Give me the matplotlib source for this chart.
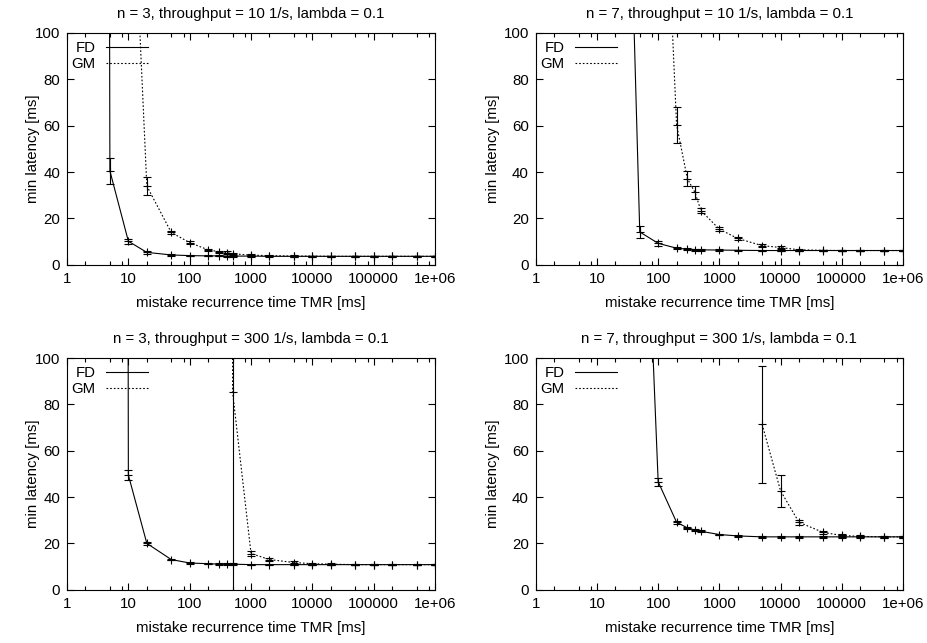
import numpy as np
import matplotlib
matplotlib.use('Agg')
import matplotlib.pyplot as plt
from matplotlib.lines import Line2D
from matplotlib.ticker import FixedLocator, NullFormatter

plt.rcParams['font.family'] = ['Liberation Sans', 'DejaVu Sans']
plt.rcParams['font.size'] = 10.8

nan = np.nan

# mistake recurrence time TMR [ms]
tmr = [1, 2, 5, 10, 20, 50, 100, 200, 300, 400, 500, 1000, 2000, 5000,
       10000, 20000, 50000, 100000, 200000, 500000, 1000000]

titles = ['n = 3, throughput = 10 1/s, lambda = 0.1',
          'n = 7, throughput = 10 1/s, lambda = 0.1',
          'n = 3, throughput = 300 1/s, lambda = 0.1',
          'n = 7, throughput = 300 1/s, lambda = 0.1']

# n = 3, throughput = 10
fd1 = [nan, 5000, 40.5, 10.2, 5.4, 4.3, 4.0, 3.9, 3.9, 3.8, 3.8, 3.8, 3.7, 3.7,
       3.7, 3.7, 3.7, 3.7, 3.7, 3.7, 3.7]
fd1_err = [nan, 0, 5.5, 1.0, 0.5, 0.3, 0.3, 0.2, 0.2, 0.2, 0.2, 0.2, 0.2, 0.2,
           0.2, 0.2, 0.2, 0.2, 0.2, 0.2, 0.2]
gm1 = [nan, nan, nan, 210, 34, 14, 9.6, 6.5, 5.7, 5.3, 4.8, 4.2, 4.0, 3.8,
       3.8, 3.7, 3.7, 3.7, 3.7, 3.7, 3.7]
gm1_err = [nan, nan, nan, 0, 4.0, 0.7, 0.6, 0.5, 0.5, 0.5, 0.4, 0.3, 0.3, 0.3,
           0.2, 0.2, 0.2, 0.2, 0.2, 0.2, 0.2]

# n = 7, throughput = 10
fd2 = [nan, nan, nan, nan, 390, 14.2, 9.3, 7.2, 6.8, 6.6, 6.5, 6.4, 6.3, 6.2,
       6.2, 6.2, 6.2, 6.2, 6.2, 6.2, 6.2]
fd2_err = [nan, nan, nan, nan, 0, 2.6, 1.0, 0.5, 0.4, 0.4, 0.3, 0.3, 0.3, 0.3,
           0.3, 0.3, 0.3, 0.3, 0.3, 0.3, 0.3]
gm2 = [nan, nan, nan, nan, nan, nan, 240, 60.3, 37.2, 31.2, 23.4, 15.4, 11.4, 8.3,
       7.5, 6.5, 6.3, 6.2, 6.2, 6.2, 6.2]
gm2_err = [nan, nan, nan, nan, nan, nan, 0, 7.6, 3.3, 2.9, 1.2, 1.0, 0.7, 0.6,
           0.5, 0.4, 0.3, 0.3, 0.3, 0.3, 0.3]

# n = 3, throughput = 300
fd3 = [nan, nan, 5000, 49.5, 20, 13, 11.5, 11.2, 11.0, 11.0, 11.0, 10.8, 10.8, 10.8,
       10.8, 10.8, 10.8, 10.8, 10.8, 10.8, 10.8]
fd3_err = [nan, nan, 0, 2.2, 0.6, 0.4, 0.3, 0.3, 0.3, 0.3, 0.3, 0.3, 0.3, 0.3,
           0.3, 0.3, 0.3, 0.3, 0.3, 0.3, 0.3]
gm3 = [nan, nan, nan, nan, nan, nan, nan, nan, nan, 5000, 85.5, 15.6, 13, 11.7,
       11.2, 11.0, 10.8, 10.8, 10.8, 10.8, 10.8]
gm3_err = [nan, nan, nan, nan, nan, nan, nan, nan, nan, 0, 300, 1.0, 0.8, 0.6,
           0.4, 0.3, 0.3, 0.3, 0.3, 0.3, 0.3]

# n = 7, throughput = 300
fd4 = [nan, nan, nan, nan, nan, 242, 46.6, 29.1, 26.7, 25.7, 25.2, 23.8, 23.2, 22.8,
       22.8, 22.8, 22.8, 22.8, 22.8, 22.8, 22.8]
fd4_err = [nan, nan, nan, nan, nan, 0, 1.8, 0.7, 0.5, 0.4, 0.4, 0.3, 0.3, 0.3,
           0.3, 0.3, 0.3, 0.3, 0.3, 0.3, 0.3]
gm4 = [nan, nan, nan, nan, nan, nan, nan, nan, nan, nan, nan, nan, nan, 71.4,
       42.7, 29.1, 24.7, 23.4, 23.0, 22.8, 22.8]
gm4_err = [nan, nan, nan, nan, nan, nan, nan, nan, nan, nan, nan, nan, nan, 25.2,
           6.9, 1.0, 0.7, 0.5, 0.4, 0.3, 0.3]

panels = [(fd1, fd1_err, gm1, gm1_err), (fd2, fd2_err, gm2, gm2_err),
          (fd3, fd3_err, gm3, gm3_err), (fd4, fd4_err, gm4, gm4_err)]

# axes boxes in figure fractions [left, bottom, width, height]
boxes = [[0.0723, 0.588, 0.397, 0.361], [0.578, 0.588, 0.396, 0.361],
         [0.0723, 0.083, 0.397, 0.360], [0.578, 0.083, 0.396, 0.360]]
ylabel_x = [-0.073, -0.098, -0.073, -0.098]

fig = plt.figure(figsize=(9.27, 6.43), dpi=100)

dots = (0, (1.5, 1.8))
minor_x = [m * 10 ** d for d in range(6) for m in (2, 5, 8)]

for box, title, lx, (fd, fd_err, gm, gm_err) in zip(boxes, titles, ylabel_x, panels):
    ax = fig.add_axes(box)
    ax.set_xscale('log')
    ax.errorbar(tmr, fd, yerr=fd_err, color='k', lw=0.8, elinewidth=0.8,
                capsize=3, capthick=0.8, marker='+', ms=6, mew=0.8, ls='-')
    eb = ax.errorbar(tmr, gm, yerr=gm_err, color='k', lw=0.8, elinewidth=0.8,
                     capsize=3, capthick=0.8, marker='+', ms=6, mew=0.8)
    eb[0].set_linestyle(dots)

    ax.set_xlim(1, 1e6)
    ax.set_ylim(0, 100)
    ax.set_xticks([1, 10, 100, 1000, 10000, 100000, 1000000])
    ax.set_xticklabels(['1', '10', '100', '1000', '10000', '100000', '1e+06'])
    ax.xaxis.set_minor_locator(FixedLocator(minor_x))
    ax.xaxis.set_minor_formatter(NullFormatter())
    ax.set_yticks([0, 20, 40, 60, 80, 100])
    ax.tick_params(which='both', direction='in', top=True, right=True, width=0.8)
    ax.tick_params(which='major', length=5, pad=5)
    ax.tick_params(which='minor', length=3)
    for s in ax.spines.values():
        s.set_linewidth(0.8)

    ax.set_title(title, fontsize=10.8, pad=11)
    ax.set_xlabel('mistake recurrence time TMR [ms]', labelpad=7.5)
    ax.set_ylabel('min latency [ms]')
    ax.yaxis.set_label_coords(lx, 0.5)

    handles = [Line2D([], [], color='k', lw=0.8),
               Line2D([], [], color='k', lw=0.8, ls=dots)]
    ax.legend(handles, ['FD', 'GM'], loc='upper left', bbox_to_anchor=(0, 0.985),
              frameon=False, markerfirst=False, handlelength=2.8, handletextpad=0.7,
              labelspacing=0.15, borderaxespad=0.1, borderpad=0.2)

fig.savefig('out.png', dpi=100)
